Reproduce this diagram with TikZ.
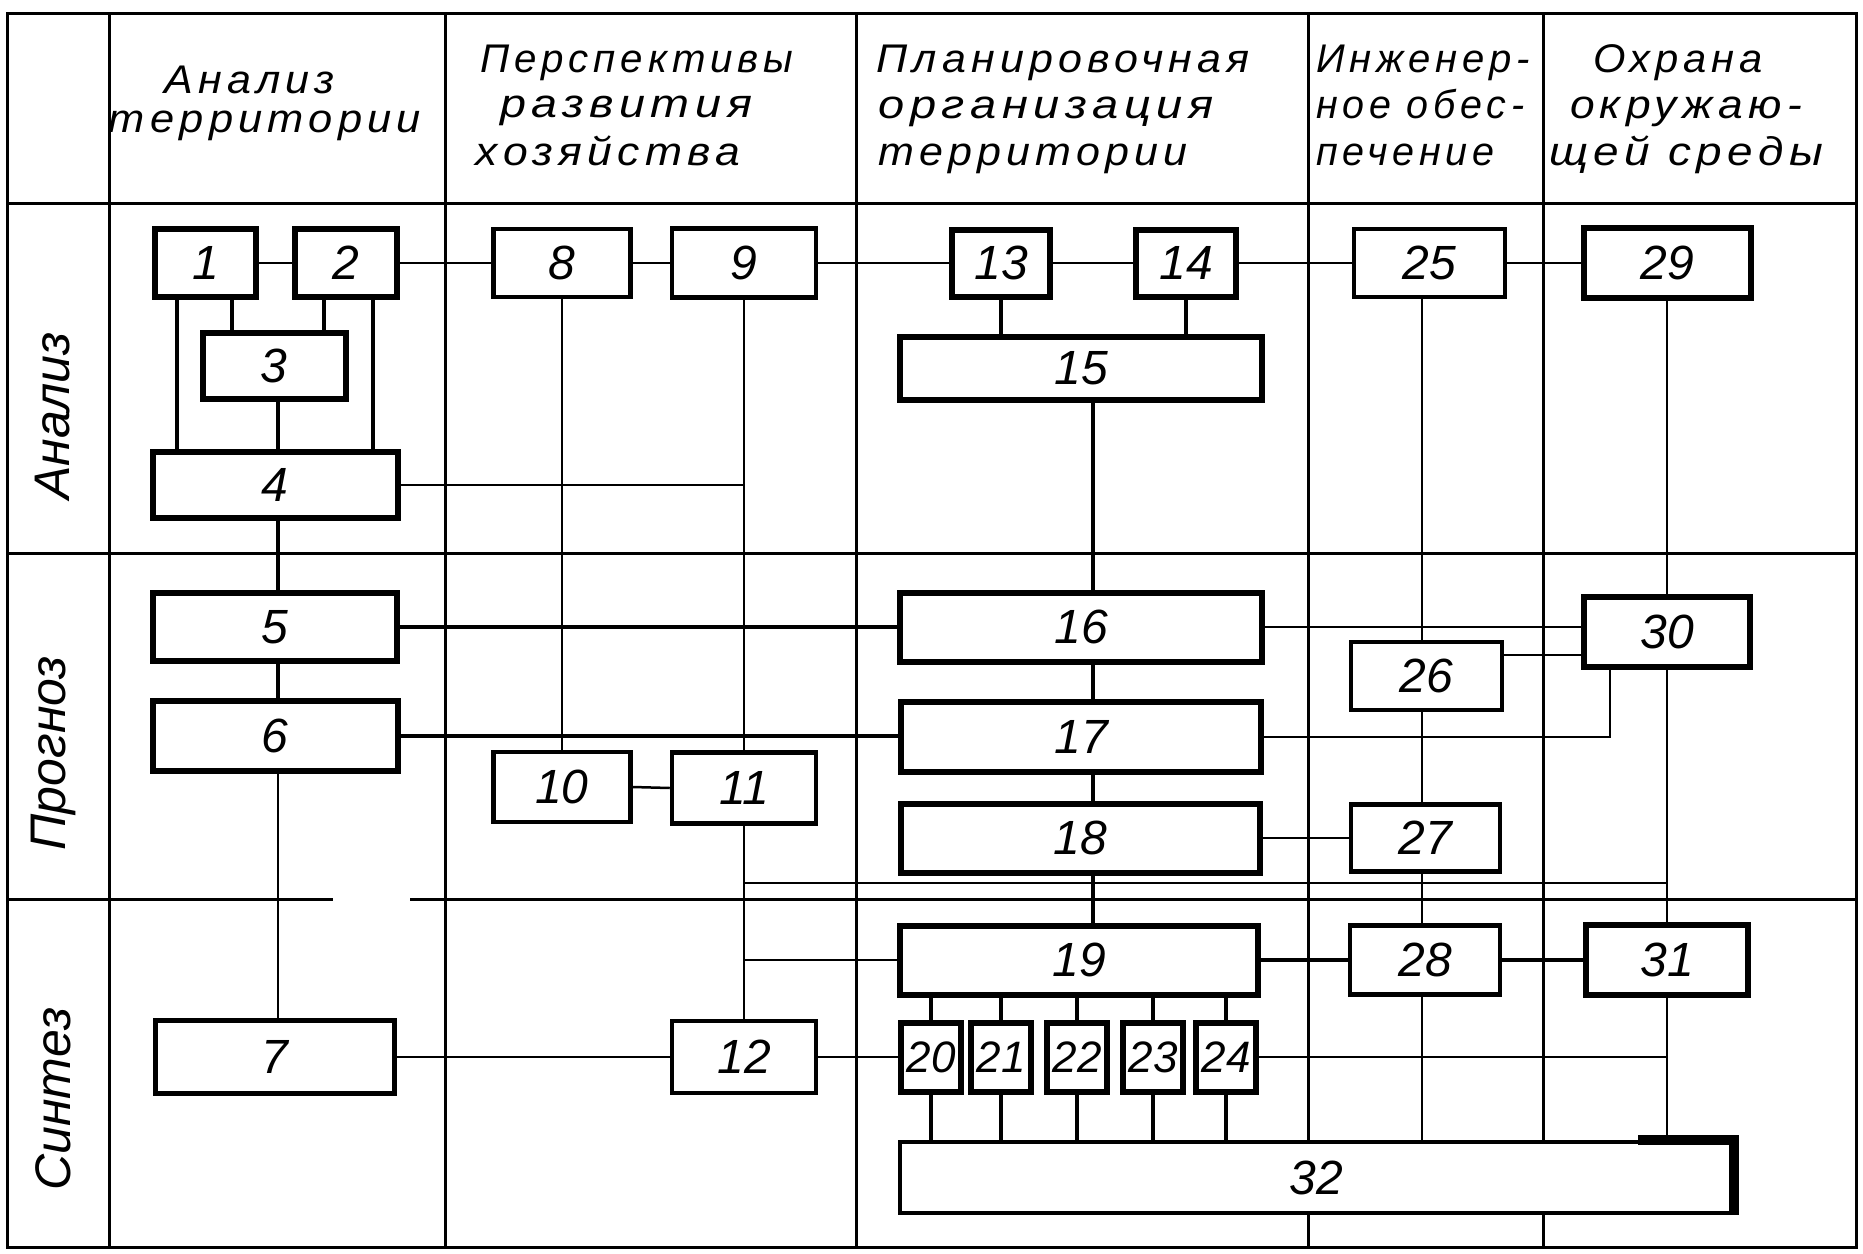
\documentclass[tikz,border=0pt]{standalone}
\usepackage{fontspec}
\usepackage{graphicx}
\setmainfont{Liberation Sans}
\newfontfamily\hdrfont{Liberation Sans}[LetterSpace=12]
\newfontfamily\numfont{Liberation Sans}
\newcommand\hw[2]{\resizebox{#1pt}{\height}{#2}}
\begin{document}
\begin{tikzpicture}[x=1pt,y=-1pt,
  boxA/.style={draw, fill=white, line width=6, inner sep=0pt,
    font=\numfont\itshape\fontsize{48}{48}\selectfont},
  boxB/.style={boxA, line width=4.5},
  smallbox/.style={boxA, minimum width=60, minimum height=69,
    font=\numfont\itshape\fontsize{44}{44}\selectfont},
  thn/.style={line width=2.5},
  mid/.style={line width=4},
  gridl/.style={line width=3},
  hdr/.style={font=\hdrfont\itshape\fontsize{40}{44}\selectfont, inner sep=0pt, anchor=base},
  hdrb/.style={hdr, anchor=base west},
  rowlbl/.style={font=\numfont\itshape\fontsize{50}{50}\selectfont, rotate=90, inner sep=0pt}
]
\useasboundingbox (0,0) rectangle (1863,1253);
\fill[white] (0,0) rectangle (1863,1253);

% ---------- table grid ----------
\draw[gridl] (7,13) rectangle (1856,1247);
\draw[gridl] (7,203) -- (1856,203);
\draw[gridl] (7,553) -- (1856,553);
\draw[gridl] (7,899) -- (333,899);
\draw[gridl] (410,899) -- (1856,899);
\foreach \cx in {109,445,856,1308,1543}
  \draw[gridl] (\cx,13) -- (\cx,1247);

% ---------- headers ----------
\node[hdr] (h1a) at (250,93) {\hw{170}{Анализ}};
\node[hdr] (h1b) at (265,132) {\hw{312}{территории}};
\node[hdr] (h2a) at (637,72) {\hw{313}{Перспективы}};
\node[hdr] (h2b) at (626,117) {\hw{252}{развития}};
\node[hdr] (h2c) at (608,165) {\hw{264}{хозяйства}};
\node[hdr] (h3a) at (1063,72) {\hw{373}{Планировочная}};
\node[hdr] (h3b) at (1046,118) {\hw{335}{организация}};
\node[hdr] (h3c) at (1033,165) {\hw{309}{территории}};
\node[hdrb] (h4a) at (1316,72) {\hw{214}{Инженер-}};
\node[hdrb] (h4b) at (1316,118) {\hw{208}{ное обес-}};
\node[hdrb] (h4c) at (1316,165) {\hw{178}{печение}};
\node[hdr] (h5a) at (1678,72) {\hw{170}{Охрана}};
\node[hdr] (h5b) at (1686,118) {\hw{232}{окружаю-}};
\node[hdr] (h5c) at (1686,165) {\hw{274}{щей среды}};

% ---------- row labels ----------
\node[rowlbl] (r1) at (53,416) {Анализ};
\node[rowlbl] (r2) at (53,753) {Прогноз};
\node[rowlbl] (r3) at (53,1099) {Синтез};

% ---------- boxes ----------
\node[boxA, minimum width=101, minimum height=68] (b1) at (205.5,263) {1};
\node[boxA, minimum width=102, minimum height=68] (b2) at (346,263) {2};
\node[boxA, minimum width=143, minimum height=66] (b3) at (274,366) {3};
\node[boxA, minimum width=245, minimum height=66] (b4) at (275,485) {4};
\node[boxA, minimum width=244, minimum height=68] (b5) at (275,627) {5};
\node[boxA, minimum width=245, minimum height=70] (b6) at (275,736) {6};
\node[boxB, minimum width=239, minimum height=73] (b7) at (275,1057) {7};
\node[boxB, minimum width=137, minimum height=68] (b8) at (562,263) {8};
\node[boxB, minimum width=144, minimum height=69] (b9) at (744,263) {9};
\node[boxB, minimum width=137, minimum height=70] (b10) at (562,787) {10};
\node[boxB, minimum width=144, minimum height=71] (b11) at (744,788) {11};
\node[boxB, minimum width=144, minimum height=72] (b12) at (744,1057) {12};
\node[boxA, minimum width=98, minimum height=67] (b13) at (1001,263) {13};
\node[boxA, minimum width=100, minimum height=67] (b14) at (1186,263) {14};
\node[boxA, minimum width=362, minimum height=63] (b15) at (1081,368.5) {15};
\node[boxA, minimum width=362, minimum height=69] (b16) at (1081,627) {16};
\node[boxA, minimum width=360, minimum height=70] (b17) at (1081,737) {17};
\node[boxA, minimum width=359, minimum height=69] (b18) at (1080,838) {18};
\node[boxA, minimum width=358, minimum height=69] (b19) at (1079,960) {19};
\node[smallbox] (b20) at (931,1057) {20};
\node[smallbox] (b21) at (1001,1057) {21};
\node[smallbox] (b22) at (1077,1057) {22};
\node[smallbox] (b23) at (1153,1057) {23};
\node[smallbox] (b24) at (1226,1057) {24};
\node[boxB, minimum width=151, minimum height=68] (b25) at (1429.5,263) {25};
\node[boxB, minimum width=151, minimum height=68] (b26) at (1426.5,676) {26};
\node[boxB, minimum width=149, minimum height=67] (b27) at (1425.5,838) {27};
\node[boxB, minimum width=150, minimum height=69] (b28) at (1425,960) {28};
\node[boxA, minimum width=167, minimum height=70] (b29) at (1667,263) {29};
\node[boxA, minimum width=166, minimum height=70] (b30) at (1667,632) {30};
\node[boxA, minimum width=162, minimum height=70] (b31) at (1667,960) {31};
\node[boxB, minimum width=832, minimum height=71] (b32) at (1316,1177.5) {32};
\draw[line width=10] ([xshift=-96pt]b32.north east) -- (b32.north east) -- (b32.south east);

% ---------- helper coordinates ----------
\coordinate (v177) at (177,0);
\coordinate (v232) at (232,0);
\coordinate (v324) at (324,0);
\coordinate (v373) at (373,0);
\coordinate (v278) at (278,0);
\coordinate (v1093) at (1093,0);
\coordinate (v1422) at (1422,0);
\coordinate (v1610) at (1610,0);
\coordinate (y655) at (0,655);
\coordinate (y883) at (0,883);

% ---------- connectors ----------
% top chain
\draw[thn] (b1.east) -- (b2.west);
\draw[thn] (b2.east) -- (b8.west);
\draw[thn] (b8.east) -- (b9.west);
\draw[thn] (b9.east) -- (b13.west);
\draw[thn] (b13.east) -- (b14.west);
\draw[thn] (b14.east) -- (b25.west);
\draw[thn] (b25.east) -- (b29.west);
% left block
\draw[mid] (b1.south -| v177) -- (b4.north -| v177);
\draw[mid] (b1.south -| v232) -- (b3.north -| v232);
\draw[mid] (b2.south -| v324) -- (b3.north -| v324);
\draw[mid] (b2.south -| v373) -- (b4.north -| v373);
\draw[mid] (b3.south -| v278) -- (b4.north -| v278);
\draw[mid] (b4.south -| v278) -- (b5.north -| v278);
\draw[mid] (b5.south -| v278) -- (b6.north -| v278);
\draw[thn] (b6.south -| v278) -- (b7.north -| v278);
\draw[thn] (b4.east) -- (b4.east -| b9.south);
% column 2
\draw[thn] (b8.south) -- (b10.north);
\draw[thn] (b9.south) -- (b11.north);
\draw[thn] (b10.east) -- (b11.west);
\draw[thn] (b11.south) -- (b12.north);
\draw[thn] (b12.north |- b19.west) -- (b19.west);
\draw[thn] (b7.east) -- (b12.west);
\draw[thn] (b12.east) -- (b20.west);
% to column 3
\draw[mid] (b5.east) -- (b5.east -| b16.west);
\draw[mid] (b6.east) -- (b6.east -| b17.west);
\draw[mid] (b13.south) -- (b13.south |- b15.north);
\draw[mid] (b14.south) -- (b14.south |- b15.north);
\draw[mid] (b15.south -| v1093) -- (b16.north -| v1093);
\draw[mid] (b16.south -| v1093) -- (b17.north -| v1093);
\draw[mid] (b17.south -| v1093) -- (b18.north -| v1093);
\draw[mid] (b18.south -| v1093) -- (b19.north -| v1093);
% to columns 4 and 5
\draw[thn] (b16.east) -- (b16.east -| b30.west);
\draw[thn] (b26.east |- y655) -- (b30.west |- y655);
\draw[thn] (b17.east) -| (v1610 |- b30.south);
\draw[thn] (b25.south -| v1422) -- (b26.north -| v1422);
\draw[thn] (b26.south -| v1422) -- (b27.north -| v1422);
\draw[thn] (b27.south -| v1422) -- (b28.north -| v1422);
\draw[thn] (b28.south -| v1422) -- (b32.north -| v1422);
\draw[thn] (b18.east) -- (b27.west);
\draw[mid] (b19.east) -- (b28.west);
\draw[mid] (b28.east) -- (b31.west);
\draw[thn] (b29.south) -- (b30.north);
\draw[thn] (b30.south) -- (b31.north);
\draw[thn] (b31.south) -- (b31.south |- b32.north);
\draw[thn] (b12.north |- y883) -- (b31.north |- y883);
\draw[thn] (b24.east) -- (b24.east -| b31.south);
% small boxes
\foreach \n in {20,21,22,23,24} {
  \draw[mid] (b\n.north |- b19.south) -- (b\n.north);
  \draw[mid] (b\n.south) -- (b\n.south |- b32.north);
}
\end{tikzpicture}
\end{document}
